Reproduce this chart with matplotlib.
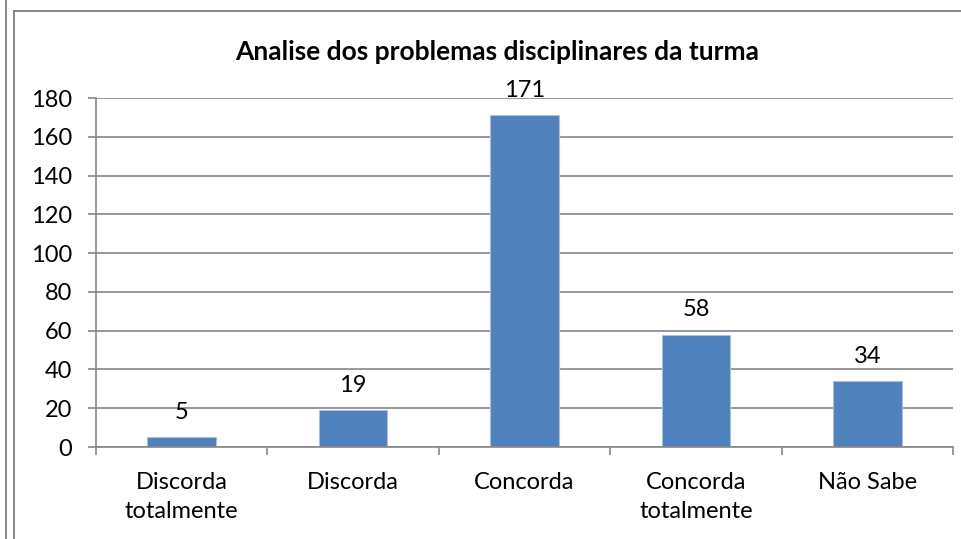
import matplotlib.pyplot as plt
from matplotlib.lines import Line2D

categorias = ['Discorda\ntotalmente', 'Discorda', 'Concorda', 'Concorda\ntotalmente', 'Não Sabe']
valores = [5, 19, 171, 58, 34]
yticks = list(range(0, 181, 20))

plt.rcParams['font.family'] = ['Lato', 'DejaVu Sans']
cinza = '#868686'

fig = plt.figure(figsize=(9.62, 5.39), dpi=100)
ax = fig.add_axes([96 / 962, 1 - 447 / 539, (953 - 96) / 962, (447 - 98) / 539])

x = list(range(len(categorias)))
barras = ax.bar(x, valores, width=0.4, color='#4f81bd', edgecolor='#a9c1df', linewidth=0.8, zorder=3)
for xi, v in zip(x, valores):
    ax.annotate(str(v), (xi, v), xytext=(0, 18), textcoords='offset points',
                ha='center', va='center', fontsize=17)

ax.set_xlim(-0.5, len(categorias) - 0.5)
ax.set_ylim(0, 180)
ax.set_yticks(yticks)
ax.tick_params(axis='y', labelsize=17, length=6, color=cinza, width=1.2, pad=11)
ax.set_xticks(x)
ax.set_xticklabels(categorias, fontsize=17, linespacing=1.5)
ax.tick_params(axis='x', length=0, pad=18)
ax.set_xticks([i - 0.5 for i in range(len(categorias) + 1)], minor=True)
ax.tick_params(axis='x', which='minor', length=6, color=cinza, width=1.2)
ax.grid(axis='y', color=cinza, linewidth=1.2, zorder=0)
for s in ['top', 'right']:
    ax.spines[s].set_visible(False)
for s in ['left', 'bottom']:
    ax.spines[s].set_color(cinza)
    ax.spines[s].set_linewidth(1.2)
    ax.spines[s].set_zorder(4)

fig.text(0.517, 1 - 52 / 539, 'Analise dos problemas disciplinares da turma',
         ha='center', va='center', fontsize=19, fontweight='bold')

# molduras
fig.add_artist(Line2D([5.5 / 962, 5.5 / 962], [0, 1], color=cinza, lw=1.4))
fig.add_artist(Line2D([13.5 / 962, 13.5 / 962], [0, 1 - 10.5 / 539], color=cinza, lw=1.4))
fig.add_artist(Line2D([13.5 / 962, 1], [1 - 10.5 / 539, 1 - 10.5 / 539], color=cinza, lw=1.4))

fig.savefig('out.png', dpi=100)
